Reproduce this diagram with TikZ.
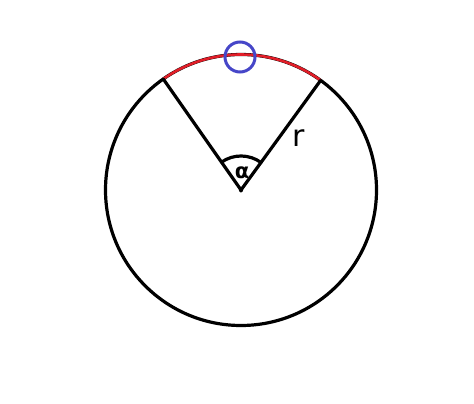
\documentclass[tikz,border=0pt]{standalone}
\usepackage{fontspec}
\newfontfamily\labelfont{DejaVu Sans}
\usetikzlibrary{calc}
\definecolor{arcred}{RGB}{225,30,40}
\definecolor{markblue}{RGB}{70,70,200}
\tikzset{
  blackline/.style={line width=3.2pt, black, line cap=round},
  redarc/.style={line width=2.6pt, arcred},
  bluemark/.style={line width=3pt, markblue},
}
\begin{document}
\begin{tikzpicture}[x=1pt,y=1pt]
\useasboundingbox[fill=white] (0,0) rectangle (474,404);
\coordinate (O) at (241,214);
\coordinate (A) at ($(O)+(125:135.5pt)$);
\coordinate (B) at ($(O)+(54:135.5pt)$);
\coordinate (T) at (240,347);
% main circle
\draw[blackline] (O) circle[radius=135.5pt];
% red arc
\draw[redarc] (B) arc[start angle=54, end angle=125, radius=135.5pt];
% radii
\draw[blackline] (A) -- (O) -- (B);
% angle arc
\draw[blackline] ($(O)+(54:34pt)$) arc[start angle=54, end angle=125, radius=34pt];
\fill (O) circle[radius=2.2pt];
% blue mark
\draw[bluemark] (T) circle[radius=15pt];
% labels
\node (alpha) at (242,231) {\labelfont\bfseries\fontsize{21}{25}\selectfont α};
\node (r) at (299,266) {\labelfont\fontsize{30}{34}\selectfont r};
\end{tikzpicture}
\end{document}
